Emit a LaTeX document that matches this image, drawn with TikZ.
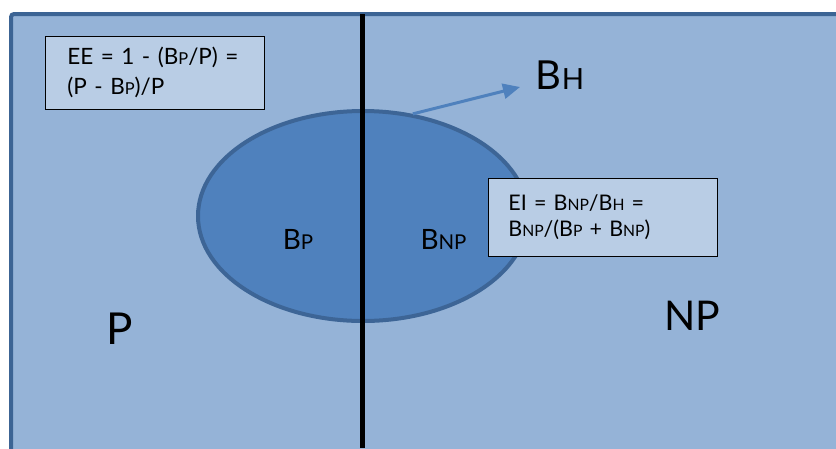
\documentclass[tikz,border=0pt]{standalone}
\usepackage{fontspec}
\setmainfont{Lato}
\usepackage{graphicx}
\usetikzlibrary{arrows.meta,shapes.geometric}
\definecolor{bg}{HTML}{95B3D7}
\definecolor{frame}{HTML}{3C6494}
\definecolor{ellfill}{HTML}{4F81BD}
\definecolor{elledge}{HTML}{3D6596}
\definecolor{boxfill}{HTML}{B9CDE5}
\newcommand\sm[1]{\scalebox{0.73}{#1}}
\begin{document}
\begin{tikzpicture}[x=1pt,y=-1pt,
  formula/.style={draw=black, line width=0.8pt, fill=boxfill, anchor=north west, align=left, inner ysep=0pt},
  biglabel/.style={font=\fontsize{44}{50}\selectfont, inner sep=0pt},
  midlabel/.style={font=\fontsize{28}{32}\selectfont, inner sep=0pt},
  blob/.style={ellipse, draw=elledge, fill=ellfill, line width=4pt, inner sep=0pt},
  divider/.style={line width=4.5pt, draw=black},
  pointer/.style={draw=ellfill, line width=3pt, -{Triangle[length=17pt,width=15pt]}}]
\useasboundingbox (0,0) rectangle (836,448);
\clip (0,0) rectangle (836,448);
% outer frame
\draw[fill=bg, draw=frame, line width=4pt, rounded corners=3pt] (11,14) rectangle (870,480);
% ellipse
\node[blob, minimum width=330, minimum height=210] (ell) at (363,216) {};
% divider
\coordinate (vtop) at (362.5,14);
\coordinate (vbot) at (362.5,448);
\draw[divider] (vtop) -- (vbot);
% labels
\node[midlabel] (bp) at (298,239) {B\sm{P}};
\node[midlabel] (bnp) at (443.5,239) {B\sm{NP}};
\node[biglabel] (p) at (120,329) {P};
\node[biglabel, font=\fontsize{41}{50}\selectfont] (np) at (692,316) {NP};
\node[font=\fontsize{40}{44}\selectfont, inner sep=0pt] (bh) at (560,75) {B\sm{H}};
% arrow
\coordinate (tip) at (520,87);
\draw[pointer] (ell.64) -- (tip);
% formula boxes
\node[formula, font=\fontsize{22.5}{30}\selectfont, inner xsep=22pt, text width=175, minimum height=73] (ee) at (45,36)
  {EE = 1 - (B\sm{P}/P) =\\(P - B\sm{P})/P};
\node[formula, font=\fontsize{21.5}{26}\selectfont, inner xsep=20pt, text width=189, minimum height=78] (ei) at (488,178)
  {EI = B\sm{NP}/B\sm{H} =\\B\sm{NP}/(B\sm{P} + B\sm{NP})};
\end{tikzpicture}
\end{document}
